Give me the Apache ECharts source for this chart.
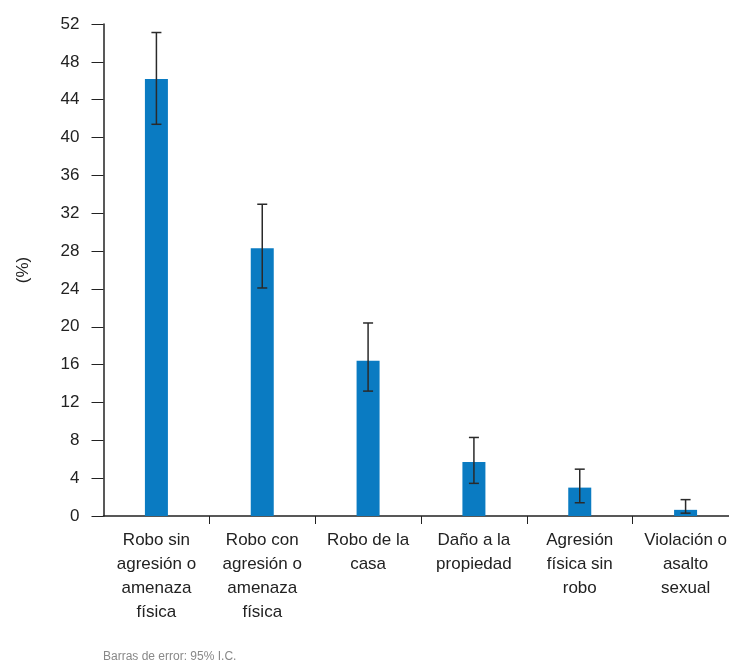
<!DOCTYPE html>
<html><head><meta charset="utf-8">
<script src="https://cdn.jsdelivr.net/npm/echarts@6/dist/echarts.min.js"></script>
<style>html,body{margin:0;padding:0;background:#fff;overflow:hidden;width:729px;height:664px}#c{width:740px;height:664px}</style>
</head><body><div id="c"></div>
<script>
const categories = ["Robo sin\nagresión o\namenaza\nfísica", "Robo con\nagresión o\namenaza\nfísica", "Robo de la\ncasa", "Daño a la\npropiedad", "Agresión\nfísica sin\nrobo", "Violación o\nasalto\nsexual"];
const values = [46.2, 28.3, 16.4, 5.7, 3.0, 0.65];
const lower = [41.4, 24.1, 13.2, 3.45, 1.4, 0.3];
const upper = [51.1, 32.95, 20.4, 8.3, 4.95, 1.73];
const yTicks = {min: 0, max: 52, interval: 4};

const font = "'Liberation Sans Narrow', 'Liberation Sans', Arial, sans-serif";
const chart = echarts.init(document.getElementById('c'));
chart.setOption({
  animation: false,
  grid: {left: 103.5, top: 24, height: 492, width: 635, containLabel: false},
  xAxis: {
    type: 'category', data: categories,
    axisLine: {lineStyle: {color: '#222', width: 1.5}},
    axisTick: {show: true, alignWithLabel: false, length: 8, interval: function (i) { return i > 0; }, lineStyle: {color: '#222'}},
    axisLabel: {color: '#222', fontFamily: font, fontSize: 17, lineHeight: 24, margin: 12, interval: 0}
  },
  yAxis: {
    type: 'value', min: yTicks.min, max: yTicks.max, interval: yTicks.interval,
    name: '(%)', nameLocation: 'middle', nameGap: 72, nameRotate: 90,
    nameTextStyle: {color: '#222', fontFamily: font, fontSize: 17},
    splitLine: {show: false},
    axisLine: {show: true, lineStyle: {color: '#222', width: 1.5}},
    axisTick: {show: true, length: 12, lineStyle: {color: '#222'}},
    axisLabel: {color: '#222', fontFamily: font, fontSize: 17, margin: 24}
  },
  series: [
    {type: 'bar', data: values, barWidth: 23, itemStyle: {color: '#0a7bc2'}},
    {type: 'custom', data: values.map((v, i) => [i, lower[i], upper[i]]), z: 10,
     renderItem: function (params, api) {
       const x = api.coord([api.value(0), 0])[0];
       const lo = api.coord([api.value(0), api.value(1)])[1];
       const hi = api.coord([api.value(0), api.value(2)])[1];
       const hw = 5;
       const st = {stroke: '#2a2a2a', lineWidth: 1.5};
       return {type: 'group', children: [
         {type: 'line', shape: {x1: x, y1: lo, x2: x, y2: hi}, style: st},
         {type: 'line', shape: {x1: x - hw, y1: hi, x2: x + hw, y2: hi}, style: st},
         {type: 'line', shape: {x1: x - hw, y1: lo, x2: x + hw, y2: lo}, style: st}
       ]};
     }}
  ],
  graphic: [{type: 'text', left: 103, top: 651, style: {text: 'Barras de error: 95% I.C.', fill: '#888', font: "12px " + font}}]
});
</script></body></html>
